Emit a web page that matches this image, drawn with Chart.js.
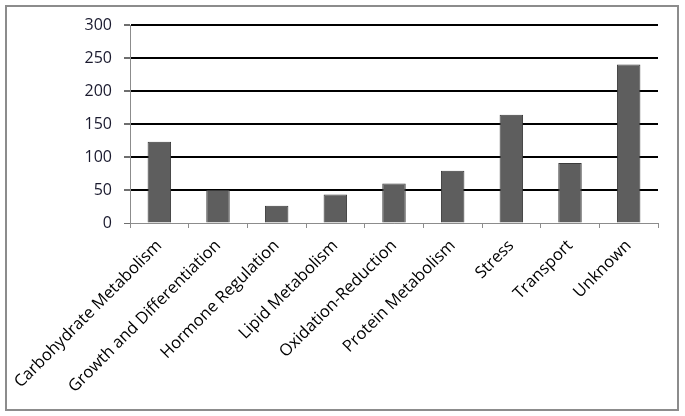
<!DOCTYPE html>
<html>
<head>
<meta charset="utf-8">
<script src="https://cdn.jsdelivr.net/npm/chart.js@4"></script>
<style>
  html, body { margin: 0; padding: 0; background: #fff; }
  #wrap { position: relative; width: 685px; height: 416px; }
</style>
</head>
<body>
<div id="wrap"><canvas id="chart" width="685" height="416"></canvas></div>
<script>
// categories and counts
var categories = ['Carbohydrate Metabolism', 'Growth and Differentiation', 'Hormone Regulation', 'Lipid Metabolism',
  'Oxidation-Reduction', 'Protein Metabolism', 'Stress', 'Transport', 'Unknown'];
var counts = [123, 50, 26, 43, 60, 79, 164, 91, 240];
var yTicks = [0, 50, 100, 150, 200, 250, 300];

// outer frame like the Excel chart box
var frame = {
  id: 'frame',
  beforeDraw: function (chart) {
    var c = chart.ctx;
    c.save();
    c.fillStyle = '#fff';
    c.fillRect(0, 0, chart.width, chart.height);
    c.strokeStyle = '#8c8c8c';
    c.lineWidth = 2;
    c.strokeRect(6, 6, 672, 404);
    c.restore();
  }
};

var ctx = document.getElementById('chart');
var chart = new Chart(ctx, {
  type: 'bar',
  data: {
    labels: categories,
    datasets: [{
      data: counts,
      backgroundColor: '#5e5e5e',
      borderColor: '#3a3a3a',
      borderWidth: 1,
      categoryPercentage: 1,
      barPercentage: 0.4
    }]
  },
  options: {
    responsive: false,
    animation: false,
    events: [],
    layout: { padding: { top: 25, right: 27, left: 0, bottom: 0 } },
    plugins: { legend: { display: false }, tooltip: { enabled: false } },
    scales: {
      x: {
        afterFit: function (s) { s.height = 193; },
        border: { color: '#8c8c8c', width: 1 },
        grid: { drawOnChartArea: false, drawTicks: true, tickLength: 5, color: '#8c8c8c', offset: true },
        ticks: {
          minRotation: 45, maxRotation: 45, autoSkip: false, padding: 8,
          color: '#000', font: { family: 'Open Sans', size: 16.5 }
        }
      },
      y: {
        min: 0, max: 300,
        afterFit: function (s) { s.width = 130; },
        afterBuildTicks: function (s) { s.ticks = yTicks.map(function (v) { return { value: v }; }); },
        border: { color: '#8c8c8c', width: 1 },
        grid: {
          color: function (c) { return c.tick && c.tick.value === 0 ? '#8c8c8c' : '#000'; },
          lineWidth: function (c) { return c.tick && c.tick.value === 0 ? 1 : 2; },
          tickColor: '#6e6e6e', tickLength: 6
        },
        ticks: { padding: 12, color: '#1a1a2e', font: { family: 'Open Sans', size: 16 } }
      }
    }
  },
  plugins: [frame]
});
</script>
</body>
</html>
